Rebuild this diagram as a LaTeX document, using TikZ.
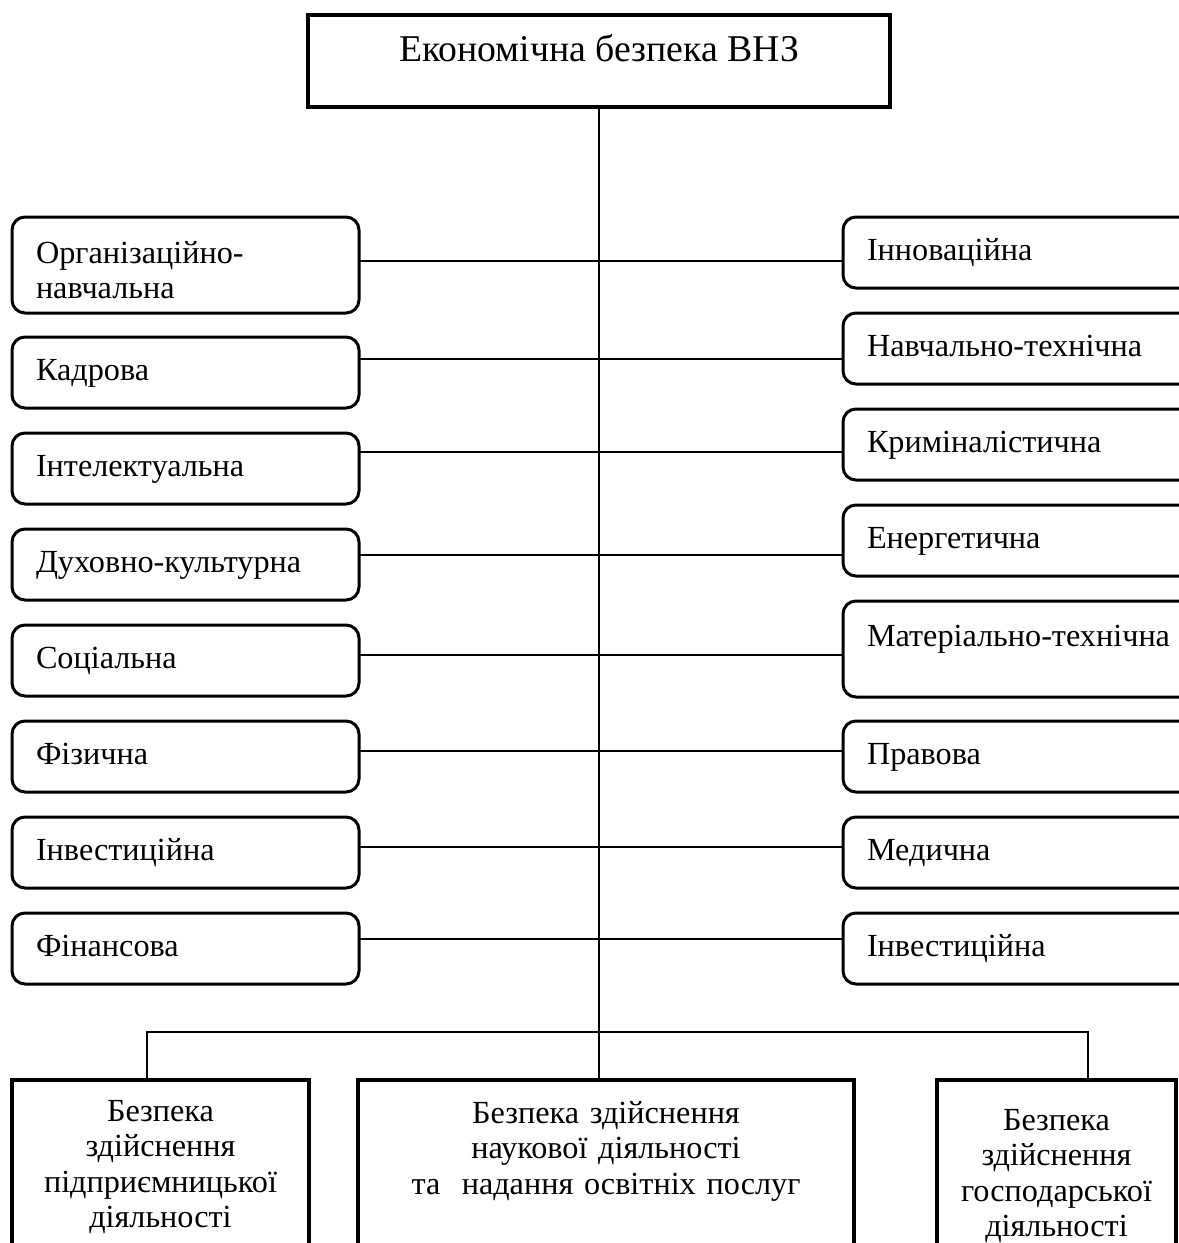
\documentclass[tikz,border=0pt]{standalone}
\usepackage{fontspec}
\setmainfont{Liberation Serif}
\newlength{\px}
\setlength{\px}{0.45pt}
\tikzset{
  sidebox/.style={draw,line width=3\px,rounded corners=13\px,anchor=north west,outer sep=0pt,inner xsep=24\px,inner ysep=0pt,align=left,font=\fontsize{14.5}{15.8}\selectfont,text height=43\px,text depth=28\px},
  leftbox/.style={sidebox,text width=299\px},
  rightbox/.style={sidebox,text width=360\px},
  mainbox/.style={draw,line width=4\px,anchor=north west,outer sep=0pt,inner xsep=6\px,inner ysep=0pt,align=center,font=\fontsize{14.5}{16}\selectfont,text depth=160\px},
  conn/.style={line width=1.7\px}
}
\begin{document}
\begin{tikzpicture}[x=1\px,y=-1\px]
%%
  \useasboundingbox (0,0) rectangle (1179,1243);
  \clip (0,0) rectangle (1179,1243);

  \node (node_vnz) at (308,15) [draw,line width=3.5\px,anchor=north west,outer sep=0pt,inner sep=0pt,minimum width=582\px,text height=46\px,text depth=46\px,font=\fontsize{17}{19}\selectfont] {Економічна безпека ВНЗ};

  \node (node_l1) at (12,217) [leftbox,text height=46\px,text depth=50\px] {Організаційно-\\навчальна};
  \node (node_l2) at (12,337) [leftbox] {Кадрова};
  \node (node_l3) at (12,433) [leftbox] {Інтелектуальна};
  \node (node_l4) at (12,529) [leftbox] {Духовно-культурна};
  \node (node_l5) at (12,625) [leftbox] {Соціальна};
  \node (node_l6) at (12,721) [leftbox] {Фізична};
  \node (node_l7) at (12,817) [leftbox] {Інвестиційна};
  \node (node_l8) at (12,913) [leftbox] {Фінансова};

  \node (node_r1) at (843,217) [rightbox] {Інноваційна};
  \node (node_r2) at (843,313) [rightbox] {Навчально-технічна};
  \node (node_r3) at (843,409) [rightbox] {Криміналістична};
  \node (node_r4) at (843,505) [rightbox] {Енергетична};
  \node (node_r5) at (843,601) [rightbox,text height=45\px,text depth=51\px] {Матеріально-технічна};
  \node (node_r6) at (843,721) [rightbox] {Правова};
  \node (node_r7) at (843,817) [rightbox] {Медична};
  \node (node_r8) at (843,913) [rightbox] {Інвестиційна};

  \node (node_b1) at (12,1080) [mainbox,text width=285\px,text height=41\px] {Безпека\\здійснення\\підприємницької\\діяльності};
  \node (node_b2) at (358,1080) [mainbox,text width=484\px,text height=43\px] {Безпека здійснення\\наукової діяльності\\та\ \ надання освітніх послуг};
  \node (node_b3) at (937,1080) [mainbox,text width=227\px,text height=50\px] {Безпека\\здійснення\\господарської\\діяльності};

  \draw [conn] (node_vnz.south) -- (node_vnz.south |- node_b2.north);
  \draw [conn] (node_l1.east |- 0,261) -- (node_r1.west |- 0,261);
  \draw [conn] (node_l2.east |- 0,359) -- (node_r2.west |- 0,359);
  \draw [conn] (node_l3.east |- 0,452) -- (node_r3.west |- 0,452);
  \draw [conn] (node_l4.east |- 0,555) -- (node_r4.west |- 0,555);
  \draw [conn] (node_l5.east |- 0,655) -- (node_r5.west |- 0,655);
  \draw [conn] (node_l6.east |- 0,751) -- (node_r6.west |- 0,751);
  \draw [conn] (node_l7.east |- 0,847) -- (node_r7.west |- 0,847);
  \draw [conn] (node_l8.east |- 0,939) -- (node_r8.west |- 0,939);

  \coordinate (bus_l) at (147,1032);
  \coordinate (bus_r) at (1088,1032);
  \draw [conn] (node_b1.north -| bus_l) -- (bus_l) -- (bus_r) -- (node_b3.north -| bus_r);
%
\end{tikzpicture}
\end{document}
